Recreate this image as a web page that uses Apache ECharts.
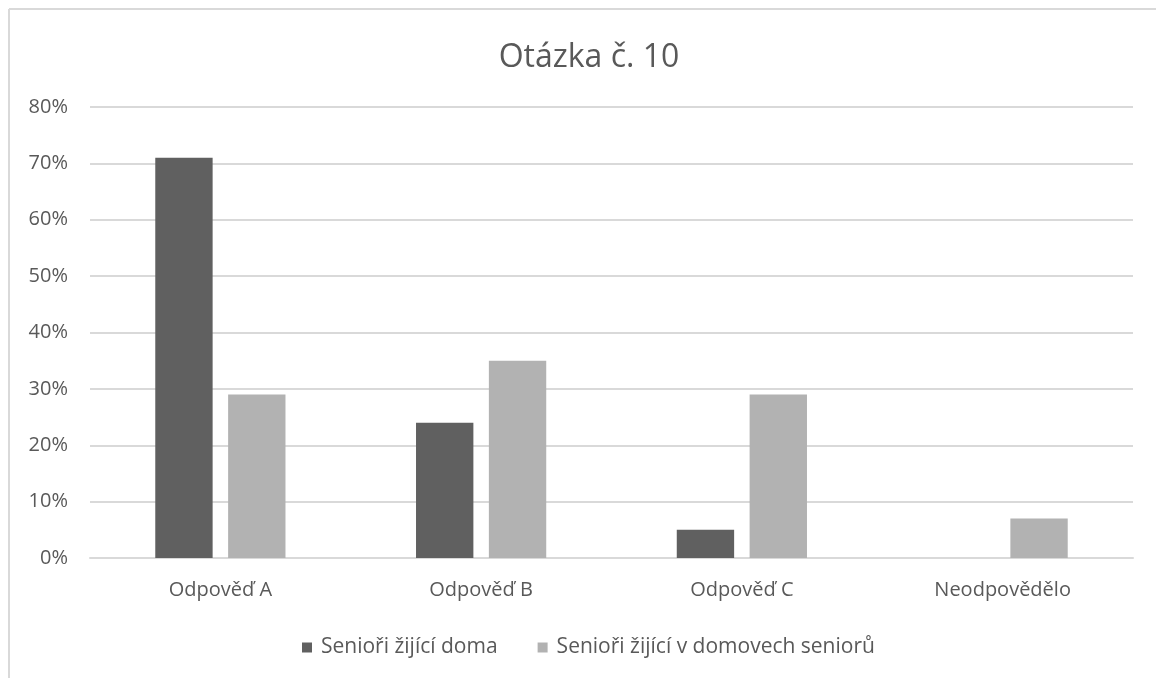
<!DOCTYPE html>
<html>
<head>
<meta charset="utf-8">
<title>Otázka č. 10</title>
<script src="https://cdn.jsdelivr.net/npm/echarts@6/dist/echarts.min.js"></script>
<style>
  html, body { margin: 0; padding: 0; background: #fff; }
  #chart { width: 1156px; height: 678px; }
</style>
</head>
<body>
<div id="chart"></div>
<script>
var categories = ['Odpověď A', 'Odpověď B', 'Odpověď C', 'Neodpovědělo'];
var seriesNames = ['Senioři žijící doma', 'Senioři žijící v domovech seniorů'];
var homeValues = [71, 24, 5, 0];
var careValues = [29, 35, 29, 7];
var yTicks = [0, 80, 10]; // min, max, krok

var textColor = '#595959';
var fontName = '"Open Sans", "Noto Sans", sans-serif';

var myChart = echarts.init(document.getElementById('chart'));
var option = {
  backgroundColor: '#fff',
  animation: false,
  color: ['#606060', '#b2b2b2'],
  title: {
    text: 'Otázka č. 10',
    left: 584,
    textAlign: 'center',
    top: 37,
    textStyle: { fontFamily: fontName, fontSize: 32, fontWeight: 'normal', color: textColor }
  },
  // ramecek grafu (orezany vpravo a dole)
  graphic: [
    { type: 'line', shape: { x1: 9, y1: 9, x2: 1156, y2: 9 }, style: { stroke: '#d9d9d9', lineWidth: 2 } },
    { type: 'line', shape: { x1: 9, y1: 9, x2: 9, y2: 678 }, style: { stroke: '#d9d9d9', lineWidth: 2 } }
  ],
  legend: {
    data: seriesNames,
    left: 297,
    top: 632,
    icon: 'rect',
    itemWidth: 10,
    itemHeight: 10,
    itemGap: 40,
    textStyle: { fontFamily: fontName, fontSize: 21, color: textColor, padding: [0, 0, 0, 4] }
  },
  grid: { left: 90, right: 23, top: 107, bottom: 120 },
  xAxis: {
    type: 'category',
    data: categories,
    axisLine: { lineStyle: { color: '#d9d9d9', width: 2 } },
    axisTick: { show: false },
    axisLabel: { fontFamily: fontName, fontSize: 20, color: textColor, margin: 22 }
  },
  yAxis: {
    type: 'value',
    min: yTicks[0],
    max: yTicks[1],
    interval: yTicks[2],
    axisLine: { show: false },
    axisTick: { show: false },
    splitLine: { lineStyle: { color: '#d9d9d9', width: 2 } },
    axisLabel: { fontFamily: fontName, fontSize: 20, color: textColor, margin: 22, formatter: '{value}%' }
  },
  series: [
    { name: seriesNames[0], type: 'bar', data: homeValues, barWidth: '22%', barGap: '27%' },
    { name: seriesNames[1], type: 'bar', data: careValues, barWidth: '22%', barGap: '27%' }
  ]
};
myChart.setOption(option);
</script>
</body>
</html>
